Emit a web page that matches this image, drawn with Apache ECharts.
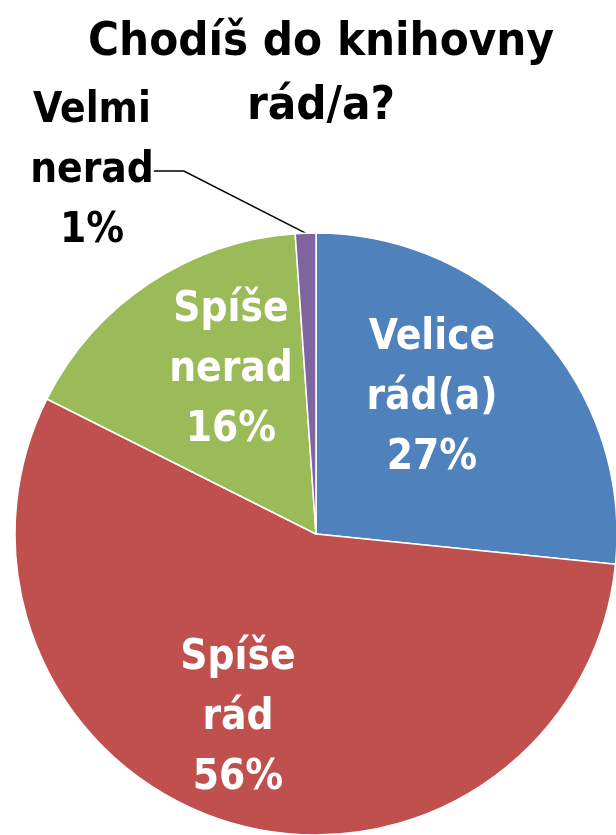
<!DOCTYPE html>
<html>
<head>
<meta charset="utf-8">
<script src="https://cdn.jsdelivr.net/npm/echarts@6/dist/echarts.min.js"></script>
<style>
  html, body { margin: 0; padding: 0; background: #fff; }
  #graf { width: 616px; height: 835px; }
</style>
</head>
<body>
<div id="graf"></div>
<script>
// data (percent shares)
const kategorie = ["Velice rád(a)", "Spíše rád", "Spíše nerad", "Velmi nerad"];
const hodnoty = [26.6, 55.8, 16.5, 1.1];
const barvy = ["#4F81BD", "#C0504D", "#9BBB59", "#8064A2"];
const popisky = ["Velice\nrád(a)", "Spíše\nrád", "Spíše\nnerad", "Velmi\nnerad"];

// label centres (text only)
const pozice = [[432, 398], [238, 718], [231, 370], [92, 171]];

const PISMO = '"Liberation Sans Narrow", "DejaVu Sans Condensed", Lato, sans-serif';

const chart = echarts.init(document.getElementById("graf"));

chart.setOption({
  backgroundColor: "#fff",
  animation: false,
  title: {
    text: "Chodíš do knihovny\nrád/a?",
    left: 316,
    textAlign: "center",
    top: 6,
    textStyle: {
      fontFamily: PISMO,
      fontWeight: "bold",
      fontSize: 47,
      lineHeight: 64,
      color: "#000"
    }
  },
  series: [{
    type: "pie",
    center: [316, 534],
    radius: 301,
    startAngle: 90,
    clockwise: true,
    percentPrecision: 0,
    itemStyle: { borderColor: "#fff", borderWidth: 1.5 },
    label: {
      position: "inner",
      fontFamily: PISMO,
      fontWeight: "bold",
      fontSize: 42,
      lineHeight: 60,
      color: "#fff",
      align: "center",
      formatter: p => popisky[p.dataIndex] + "\n" + p.percent + "%"
    },
    labelLayout: p => ({
      x: pozice[p.dataIndex][0],
      y: pozice[p.dataIndex][1],
      align: "center",
      verticalAlign: "middle"
    }),
    data: kategorie.map((k, i) => {
      const d = { name: k, value: hodnoty[i], itemStyle: { color: barvy[i] } };
      if (i === 3) {
        d.label = { position: "outside", color: "#000" };
        d.labelLine = { show: true, lineStyle: { color: "#000", width: 1.5 } };
      }
      return d;
    })
  }]
});
</script>
</body>
</html>
